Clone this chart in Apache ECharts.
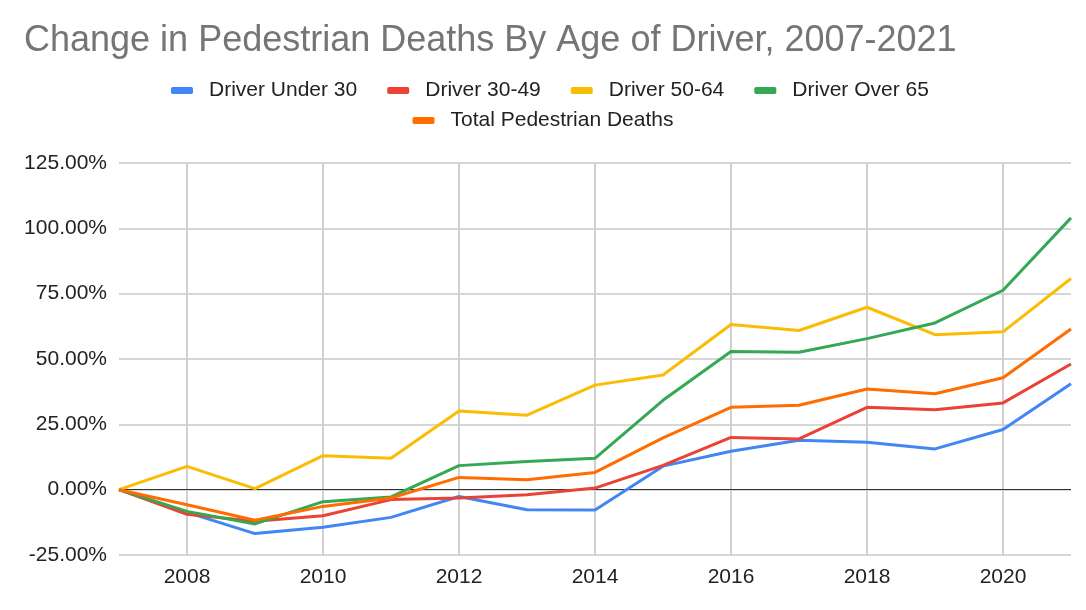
<!DOCTYPE html>
<html>
<head>
<meta charset="utf-8">
<script src="https://cdn.jsdelivr.net/npm/echarts@6/dist/echarts.min.js"></script>
<style>html,body{margin:0;padding:0;background:#fff;}#c{width:1086px;height:610px;}</style>
</head>
<body>
<div id="c"></div>
<script>
const years = ['2007','2008','2009','2010','2011','2012','2013','2014','2015','2016','2017','2018','2019','2020','2021'];
const driverUnder30 = [0, -8.7, -16.8, -14.4, -10.6, -2.6, -7.7, -7.8, 9.0, 14.7, 18.9, 18.1, 15.6, 23.0, 40.5];
const driver30to49 = [0, -9.4, -12.1, -10.0, -3.8, -3.2, -1.9, 0.6, 9.3, 20.0, 19.4, 31.5, 30.6, 33.2, 48.1];
const driver50to64 = [0, 8.9, 0.4, 13.0, 12.0, 30.1, 28.5, 40.0, 43.9, 63.2, 60.9, 69.8, 59.3, 60.4, 80.8];
const driverOver65 = [0, -8.3, -13.1, -4.6, -2.8, 9.2, 10.8, 12.0, 34.2, 52.9, 52.6, 57.8, 63.8, 76.3, 104.0];
const totalDeaths = [0, -5.8, -11.7, -6.4, -3.2, 4.7, 3.8, 6.6, 19.8, 31.5, 32.3, 38.5, 36.7, 42.8, 61.5];
const yTicks = [-25, 0, 25, 50, 75, 100, 125];

const names = ['Driver Under 30','Driver 30-49','Driver 50-64','Driver Over 65','Total Pedestrian Deaths'];
const colors = ['#4285F4','#EA4335','#FBBC04','#34A853','#FF6D01'];
const datas = [driverUnder30, driver30to49, driver50to64, driverOver65, totalDeaths];
const font = 'Liberation Sans, Arial, sans-serif';

const series = names.map((n, i) => ({
  name: n, type: 'line', data: datas[i], symbol: 'none',
  lineStyle: { width: 3, color: colors[i] }, itemStyle: { color: colors[i] },
  z: 3 + i
}));
series[0].markLine = {
  silent: true, symbol: 'none', label: { show: false },
  lineStyle: { color: '#333', width: 1.2, type: 'solid' },
  data: [{ yAxis: 0 }], z: 2
};

const legendCommon = {
  orient: 'horizontal', left: 'center', itemWidth: 22, itemHeight: 7, itemGap: 30,
  icon: 'roundRect',
  textStyle: { fontFamily: font, fontSize: 21, color: '#222', padding: [0, 0, 0, 11] }
};

const chart = echarts.init(document.getElementById('c'), null, { renderer: 'canvas' });
chart.setOption({
  animation: false,
  backgroundColor: '#fff',
  color: colors,
  title: {
    text: 'Change in Pedestrian Deaths By Age of Driver, 2007-2021',
    left: 19, top: 18,
    textStyle: { fontFamily: font, fontSize: 36, fontWeight: 'normal', color: '#757575' }
  },
  legend: [
    Object.assign({}, legendCommon, { top: 75, left: 166, data: names.slice(0, 4) }),
    Object.assign({}, legendCommon, { top: 105, data: names.slice(4) })
  ],
  grid: { left: 119, right: 15, top: 163, bottom: 55, containLabel: false },
  xAxis: {
    type: 'category', data: years, boundaryGap: false,
    axisLine: { show: false, onZero: false },
    axisTick: { show: false },
    axisLabel: {
      interval: (i) => i % 2 === 1, margin: 12,
      fontFamily: font, fontSize: 21, color: '#222'
    },
    splitLine: {
      show: true, interval: (i) => i % 2 === 1,
      lineStyle: { color: '#d0d0d0', width: 2 }
    }
  },
  yAxis: {
    type: 'value', min: yTicks[0], max: yTicks[yTicks.length - 1], interval: 25,
    axisLine: { show: false }, axisTick: { show: false },
    axisLabel: {
      margin: 12, fontFamily: font, fontSize: 21, color: '#222',
      formatter: (v) => v.toFixed(2) + '%'
    },
    splitLine: { show: true, lineStyle: { color: '#d6d6d6', width: 2 } }
  },
  series: series
});
</script>
</body>
</html>
